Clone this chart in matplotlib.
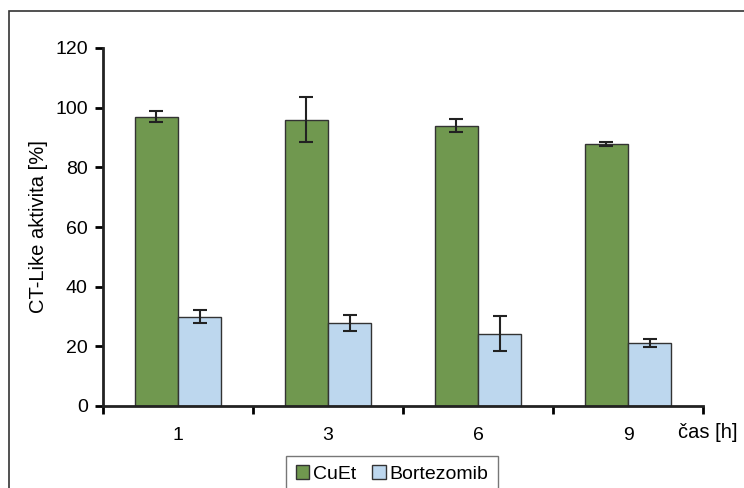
import matplotlib.pyplot as plt
import numpy as np
from matplotlib.patches import Rectangle

plt.rcParams['font.family'] = ['Liberation Sans', 'DejaVu Sans']

# data
times = ["1", "3", "6", "9"]
cuet = [97.0, 96.0, 94.0, 87.8]
cuet_err = [1.8, 7.5, 2.3, 0.6]
bort = [30.0, 27.8, 24.3, 21.1]
bort_err = [2.2, 2.7, 5.8, 1.4]

fig = plt.figure(figsize=(7.44, 4.88), dpi=100)
ax = fig.add_axes([103/744, 1 - 406/488, 600/744, 358/488])

# outer frame (only top and left edge visible)
fig.patches.append(Rectangle((9/744, -0.5), 2, 0.5 + 1 - 11/488,
                             transform=fig.transFigure, fill=False,
                             edgecolor="#333333", linewidth=1.2))

x = np.arange(len(times))
w = 0.287
err_kw = dict(ecolor="#222222", elinewidth=1.5, capsize=5, capthick=1.5)
ax.bar(x - w/2, cuet, w, yerr=cuet_err, color="#70984F", edgecolor="#333333",
       linewidth=1, label="CuEt", error_kw=err_kw)
ax.bar(x + w/2, bort, w, yerr=bort_err, color="#BDD7EE", edgecolor="#333333",
       linewidth=1, label="Bortezomib", error_kw=err_kw)

ax.set_xlim(-0.5, len(times) - 0.5)
ax.set_ylim(0, 120)
ax.set_yticks(range(0, 121, 20))
ax.set_xticks(x)
ax.set_xticklabels(times)
ax.set_xticks(np.arange(-0.5, len(times), 1), minor=True)
ax.tick_params(axis="x", which="major", length=0, labelsize=14, pad=15)
ax.tick_params(axis="x", which="minor", length=6, width=2, direction="out")
ax.tick_params(axis="y", length=6, width=2, labelsize=14, pad=5)

for s in ["top", "right"]:
    ax.spines[s].set_visible(False)
for s in ["left", "bottom"]:
    ax.spines[s].set_linewidth(2)
    ax.spines[s].set_color("#222222")

ax.set_ylabel("CT-Like aktivita [%]", fontsize=14.5, labelpad=5)
fig.text(738/744, 1 - 432/488, "čas [h]", fontsize=14.5, ha="right", va="center")

leg = ax.legend(loc="upper center", bbox_to_anchor=(392/744, 1 - 446/488),
                bbox_transform=fig.transFigure, ncol=2, frameon=True,
                fancybox=False, edgecolor="#555555", fontsize=14,
                handlelength=0.7, handleheight=0.7, handletextpad=0.2,
                columnspacing=0.8, borderpad=0.5)
leg.get_frame().set_linewidth(1)

fig.savefig("out.png", dpi=100)
